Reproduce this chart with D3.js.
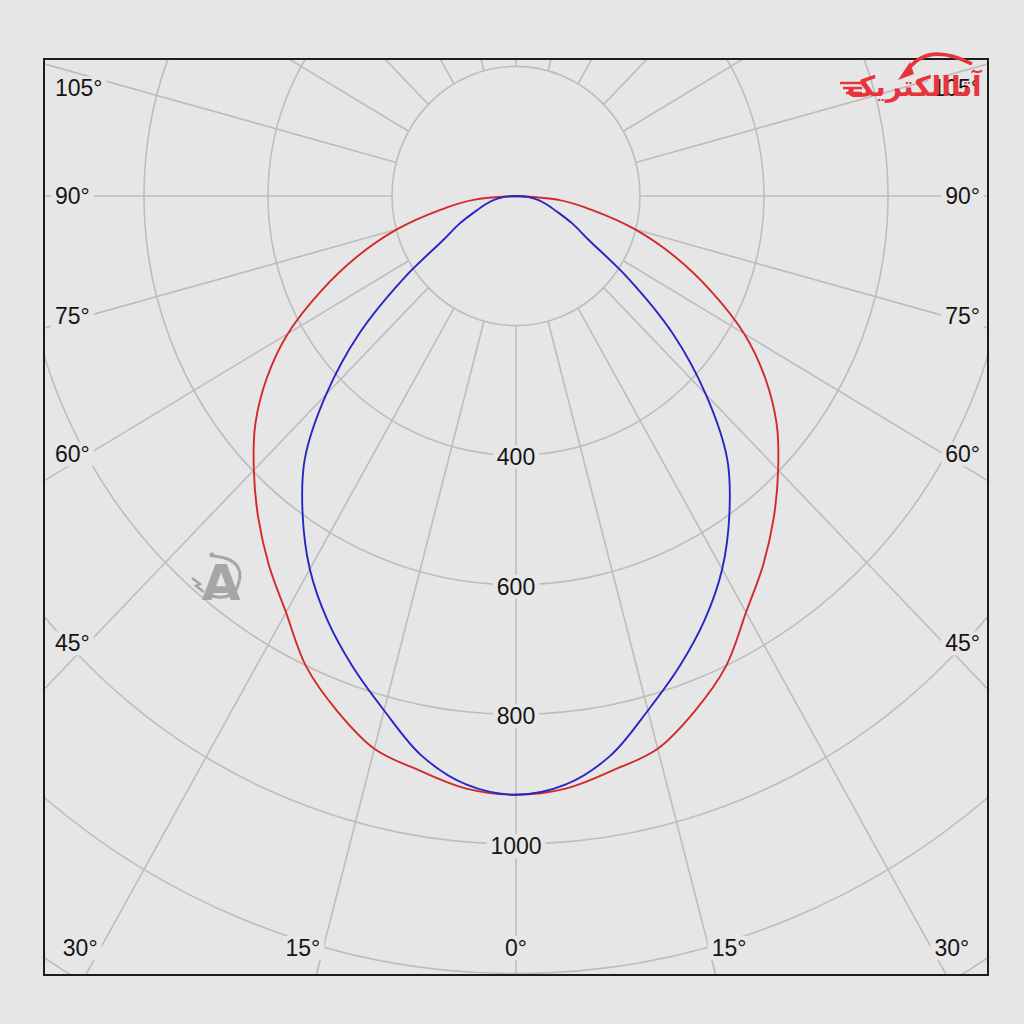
<!DOCTYPE html>
<html>
<head>
<meta charset="utf-8">
<script src="https://cdn.jsdelivr.net/npm/d3@7"></script>
<style>
html,body{margin:0;padding:0;background:#e6e6e6;}
svg{display:block;}
</style>
</head>
<body>
<svg id="chart" width="1024" height="1024"></svg>
<script>
// ---------- data ----------
const angles = [0,5,10,15,20,25,30,35,40,45,50,55,60,65,70,75,80,85,90];
const redValues  = [924,918,900,883,845,801,742,695,647,598,549,491,425,347,272,199,125,69,0];
const blueValues = [924,912,877,822,772,721,665,600,530,433,330,220,135,100,70,52,37,20,0];
const gridRadii = [200,400,600,800,1000,1200,1400];
const radiusLabels = [400,600,800,1000];
const spokeAngles = d3.range(0,360,15);
const sideLabelAngles = [105,90,75,60,45];
const bottomLabelAngles = [30,15,0];
const seriesColors = {red:"#d22a2a", blue:"#2626c6"};

// ---------- layout ----------
const W = 1024, H = 1024;
const frame = {x0:44, y0:59, x1:988, y1:975};
const cx = 516, cy = 196;
const rX = d3.scaleLinear().domain([0,1000]).range([0,620]);
const rY = d3.scaleLinear().domain([0,1000]).range([0,648]);
const rad = d => d*Math.PI/180;
const px = (g,v) => cx + rX(v)*Math.sin(rad(g));
const py = (g,v) => cy + rY(v)*Math.cos(rad(g));

const svg = d3.select("#chart");
svg.append("rect").attr("width",W).attr("height",H).attr("fill","#e6e6e6");

svg.append("defs").append("clipPath").attr("id","plotclip")
  .append("rect").attr("x",frame.x0).attr("y",frame.y0)
  .attr("width",frame.x1-frame.x0).attr("height",frame.y1-frame.y0);

const plot = svg.append("g").attr("clip-path","url(#plotclip)");
const gridColor = "#bdbdbd";

// circles
plot.selectAll("ellipse.grid").data(gridRadii).join("ellipse")
  .attr("class","grid")
  .attr("cx",cx).attr("cy",cy)
  .attr("rx",d=>rX(d)).attr("ry",d=>rY(d))
  .attr("fill","none").attr("stroke",gridColor).attr("stroke-width",1.6);

// spokes
plot.selectAll("line.spoke").data(spokeAngles).join("line")
  .attr("class","spoke")
  .attr("x1",g=>px(g,200)).attr("y1",g=>py(g,200))
  .attr("x2",g=>px(g,2200)).attr("y2",g=>py(g,2200))
  .attr("stroke",gridColor).attr("stroke-width",1.6);

// ---------- labels with knock-out background ----------
const labelLayer = svg.append("g");
function addLabel(x,y,txt,anchor){
  const g = labelLayer.append("g");
  const t = g.append("text").attr("x",x).attr("y",y)
    .attr("text-anchor",anchor).attr("dominant-baseline","central")
    .attr("font-family","'Liberation Sans', Arial, sans-serif")
    .attr("font-size",23).attr("fill","#151515").text(txt);
  const b = t.node().getBBox();
  g.insert("rect","text").attr("x",b.x-4).attr("y",b.y+1)
    .attr("width",b.width+8).attr("height",b.height-2).attr("fill","#e6e6e6");
}

// radial value labels on the 0° axis
radiusLabels.forEach(v => addLabel(cx, py(0,v)+2, String(v), "middle"));

// side angle labels (left & right), placed where the spoke crosses an inset line
const insetX = 88;
sideLabelAngles.forEach(g => {
  const dx = cx - insetX;
  const t = dx / rX(1000) / Math.sin(rad(g)) * 1000;
  let y = py(g, t);
  if (g > 90) y += 12;
  addLabel(55, y, g+"°", "start");
  addLabel(W - 44, y, g+"°", "end");
});

// bottom angle labels
const labelY = 948;
bottomLabelAngles.forEach(g => {
  if (g === 0) { addLabel(cx, labelY, "0°", "middle"); return; }
  const t = (labelY - cy) / rY(1000) / Math.cos(rad(g)) * 1000;
  const off = rX(t)*Math.sin(rad(g));
  addLabel(cx - off - 3, labelY, g+"°", "end");
  addLabel(cx + off + 3, labelY, g+"°", "start");
});

// ---------- curves ----------
function curvePoints(vals){
  const pts = [];
  for (let i = angles.length-1; i >= 0; i--) pts.push([-angles[i], vals[i]]);
  for (let i = 1; i < angles.length; i++) pts.push([angles[i], vals[i]]);
  return pts;
}
const line = d3.line().x(d=>px(d[0],d[1])).y(d=>py(d[0],d[1])).curve(d3.curveCatmullRom.alpha(0.5));
const curves = svg.append("g").attr("clip-path","url(#plotclip)");
curves.append("path").datum(curvePoints(redValues)).attr("d",line)
  .attr("fill","none").attr("stroke",seriesColors.red).attr("stroke-width",1.9).attr("stroke-linejoin","round");
curves.append("path").datum(curvePoints(blueValues)).attr("d",line)
  .attr("fill","none").attr("stroke",seriesColors.blue).attr("stroke-width",1.9).attr("stroke-linejoin","round");

// frame
svg.append("rect").attr("x",frame.x0).attr("y",frame.y0)
  .attr("width",frame.x1-frame.x0).attr("height",frame.y1-frame.y0)
  .attr("fill","none").attr("stroke","#1c1c1c").attr("stroke-width",2);

// ---------- watermarks ----------
const logo = svg.append("g");
logo.append("path").attr("d","M905,74 Q925,40 972,64")
  .attr("fill","none").attr("stroke","#e8343c").attr("stroke-width",3.5);
logo.append("path").attr("d","M898,80 L910,62 L914,74 Z").attr("fill","#e8343c");
[83,88,93].forEach((y,i)=>logo.append("line").attr("x1",840+i*3).attr("x2",862).attr("y1",y).attr("y2",y)
  .attr("stroke","#e8343c").attr("stroke-width",2.5));
logo.append("text").attr("x",914).attr("y",96).attr("text-anchor","middle")
  .attr("font-family","'DejaVu Sans', sans-serif").attr("font-weight","bold")
  .attr("font-size",28).attr("fill","#e8343c").attr("direction","rtl").text("آتاالکتریک");

const wm = svg.append("g").attr("opacity",0.85);
wm.append("text").attr("x",221).attr("y",600).attr("text-anchor","middle")
  .attr("font-family","'DejaVu Sans', sans-serif").attr("font-weight","bold")
  .attr("font-size",50).attr("fill","#9b9b9b").text("A");
wm.append("path").attr("d","M214,556 Q250,560 236,590 Q228,600 212,596")
  .attr("fill","none").attr("stroke","#9b9b9b").attr("stroke-width",3);
wm.append("circle").attr("cx",212).attr("cy",555).attr("r",2.5).attr("fill","#9b9b9b");
wm.append("path").attr("d","M192,578 L200,584 L196,586 L204,592").attr("fill","none")
  .attr("stroke","#9b9b9b").attr("stroke-width",2.5);
</script>
</body>
</html>
